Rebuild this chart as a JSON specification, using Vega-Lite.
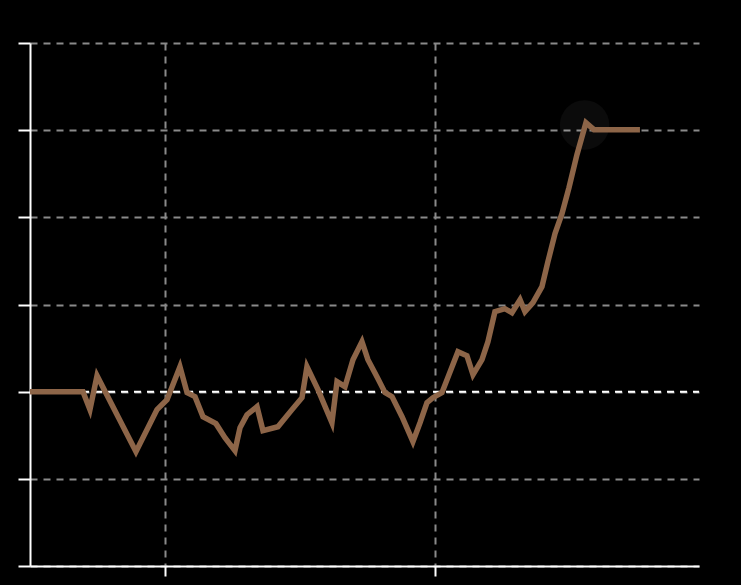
{
  "$schema": "https://vega.github.io/schema/vega-lite/v6.json",
  "width": 669,
  "height": 523,
  "autosize": {"type": "none"},
  "padding": {"left": 30, "top": 43, "right": 42, "bottom": 19},
  "background": "#000000",
  "config": {"view": {"stroke": null}},
  "datasets": {
    "series": [
      {"t": 0, "v": 100},
      {"t": 4.71, "v": 100},
      {"t": 5.33, "v": 97.94},
      {"t": 5.96, "v": 101.84},
      {"t": 9.42, "v": 93.12},
      {"t": 11.29, "v": 97.94},
      {"t": 12.18, "v": 99.08},
      {"t": 13.33, "v": 102.87},
      {"t": 13.96, "v": 99.89},
      {"t": 14.67, "v": 99.43},
      {"t": 15.38, "v": 97.13},
      {"t": 16.53, "v": 96.33},
      {"t": 17.33, "v": 94.72},
      {"t": 18.22, "v": 93.23},
      {"t": 18.67, "v": 95.87},
      {"t": 19.29, "v": 97.36},
      {"t": 20.18, "v": 98.28},
      {"t": 20.71, "v": 95.53},
      {"t": 22.04, "v": 95.98},
      {"t": 23.29, "v": 97.94},
      {"t": 24.18, "v": 99.31},
      {"t": 24.62, "v": 102.87},
      {"t": 25.6, "v": 100.23},
      {"t": 26.84, "v": 96.44},
      {"t": 27.29, "v": 101.15},
      {"t": 28.0, "v": 100.57},
      {"t": 28.71, "v": 103.67},
      {"t": 29.51, "v": 105.74},
      {"t": 30.04, "v": 103.67},
      {"t": 30.84, "v": 101.72},
      {"t": 31.56, "v": 99.89},
      {"t": 32.18, "v": 99.43},
      {"t": 33.07, "v": 97.13},
      {"t": 34.04, "v": 94.26},
      {"t": 34.67, "v": 96.44},
      {"t": 35.29, "v": 98.74},
      {"t": 35.82, "v": 99.31},
      {"t": 36.62, "v": 99.89},
      {"t": 38.04, "v": 104.59},
      {"t": 38.84, "v": 104.13},
      {"t": 39.38, "v": 101.95},
      {"t": 40.18, "v": 103.67},
      {"t": 40.71, "v": 105.74},
      {"t": 41.33, "v": 109.18},
      {"t": 42.22, "v": 109.52},
      {"t": 42.84, "v": 109.06},
      {"t": 43.56, "v": 110.55},
      {"t": 44.0, "v": 109.18},
      {"t": 44.71, "v": 110.21},
      {"t": 45.51, "v": 112.05},
      {"t": 46.04, "v": 114.91},
      {"t": 46.67, "v": 118.13},
      {"t": 47.29, "v": 120.42},
      {"t": 47.91, "v": 123.4},
      {"t": 48.62, "v": 127.19},
      {"t": 49.42, "v": 130.86},
      {"t": 50.13, "v": 130.06},
      {"t": 54.22, "v": 130.06}
    ],
    "glow": [{"t": 49.3, "v": 130.6}],
    "base": [{"v": 100}]
  },
  "encoding": {
    "x": {
      "field": "t",
      "type": "quantitative",
      "scale": {"domain": [0, 59.47], "nice": false, "zero": false},
      "axis": {
        "title": null,
        "labels": false,
        "values": [12, 36],
        "domainColor": "#ffffff",
        "domainWidth": 2,
        "tickColor": "#ffffff",
        "tickWidth": 2,
        "tickSize": 10,
        "grid": true,
        "gridColor": "#8a8a8a",
        "gridWidth": 2,
        "gridDash": [7, 6]
      }
    },
    "y": {
      "field": "v",
      "type": "quantitative",
      "scale": {"domain": [80, 140], "nice": false, "zero": false},
      "axis": {
        "title": null,
        "labels": false,
        "values": [80, 90, 100, 110, 120, 130, 140],
        "domainColor": "#ffffff",
        "domainWidth": 2,
        "tickColor": "#ffffff",
        "tickWidth": 2,
        "tickSize": 12,
        "grid": true,
        "gridColor": "#8a8a8a",
        "gridWidth": 2,
        "gridDash": [7, 6]
      }
    }
  },
  "layer": [
    {
      "data": {"name": "glow"},
      "mark": {"type": "point", "filled": true, "size": 2450, "color": "#ffffff", "opacity": 0.045}
    },
    {
      "data": {"name": "base"},
      "mark": {"type": "rule", "color": "#ffffff", "strokeWidth": 2, "strokeDash": [7, 6]},
      "encoding": {"y": {"field": "v", "type": "quantitative"}, "x": {"value": 0}, "x2": {"value": 669}}
    },
    {
      "data": {"name": "series"},
      "mark": {"type": "line", "color": "#8d6548", "strokeWidth": 5.5, "strokeJoin": "miter"}
    }
  ]
}
